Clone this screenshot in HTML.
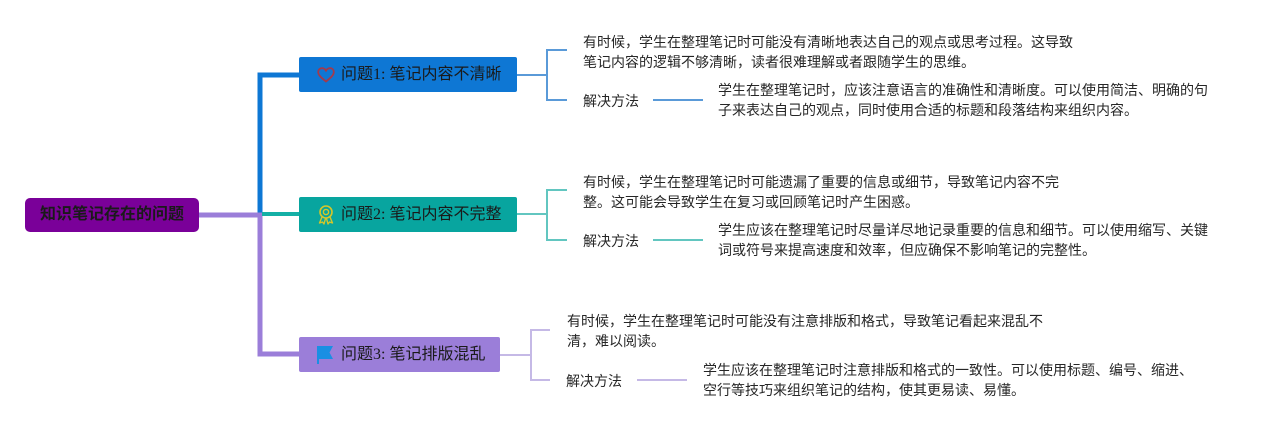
<!DOCTYPE html>
<html>
<head>
<meta charset="utf-8">
<style>
  html,body{margin:0;padding:0;background:#fff;}
  body{width:1278px;height:430px;position:relative;overflow:hidden;
    font-family:"Liberation Sans","Noto Sans CJK SC",sans-serif;}
  .abs{position:absolute;white-space:nowrap;}
  .root{left:25px;top:198px;width:174px;height:34px;background:#7a0099;border-radius:5px;
    color:#1a1a1a;font-weight:bold;font-size:16px;line-height:34px;text-align:center;}
  .box{height:35px;border-radius:2px;color:#1a1a1a;font-size:16px;line-height:35px;
    font-family:"Liberation Serif","Noto Sans CJK SC",sans-serif;}
  .box span{position:absolute;left:42px;top:0;}
  .t{font-size:14px;line-height:19.5px;color:#262626;}
  .lbl{font-size:14px;line-height:20px;color:#262626;}
</style>
</head>
<body>
<svg class="abs" style="left:0;top:0" width="1278" height="430">
  <!-- trunk lines -->
  <polyline points="299,75 260,75 260,215" fill="none" stroke="#0e77d4" stroke-width="5"/>
  <polyline points="199,215 260,215 260,354 299,354" fill="none" stroke="#9b7ed9" stroke-width="5"/>
  <line x1="262" y1="214" x2="299" y2="214" stroke="#14b0a6" stroke-width="4"/>
  <!-- section 1 connectors -->
  <g stroke="#5a9ad8" stroke-width="2" fill="none">
    <line x1="517" y1="75" x2="547" y2="75"/>
    <polyline points="567,50 547,50 547,100 567,100"/>
    <line x1="653" y1="100" x2="703" y2="100"/>
  </g>
  <!-- section 2 connectors -->
  <g stroke="#62c6c0" stroke-width="2" fill="none">
    <line x1="517" y1="214" x2="547" y2="214"/>
    <polyline points="567,190 547,190 547,240 567,240"/>
    <line x1="653" y1="240" x2="703" y2="240"/>
  </g>
  <!-- section 3 connectors -->
  <g stroke="#c5b9e6" stroke-width="2" fill="none">
    <line x1="500" y1="355" x2="531" y2="355"/>
    <polyline points="550,330 531,330 531,380 550,380"/>
    <line x1="637" y1="380" x2="687" y2="380"/>
  </g>
</svg>

<div class="abs root">知识笔记存在的问题</div>

<!-- Problem 1 -->
<div class="abs box" style="left:299px;top:57px;width:218px;background:#0e77d4;">
  <svg class="abs" style="left:18px;top:10px" width="18" height="16" viewBox="0 0 18 16">
    <path d="M9 14.5 C4 10.5 1.2 8 1.2 5 C1.2 2.6 3 1.2 5 1.2 C6.8 1.2 8.2 2.3 9 3.6 C9.8 2.3 11.2 1.2 13 1.2 C15 1.2 16.8 2.6 16.8 5 C16.8 8 14 10.5 9 14.5 Z" fill="none" stroke="#a33a4c" stroke-width="1.8"/>
  </svg>
  <span>问题1: 笔记内容不清晰</span>
</div>

<!-- Problem 2 -->
<div class="abs box" style="left:299px;top:197px;width:218px;background:#08a59f;">
  <svg class="abs" style="left:18px;top:8px" width="18" height="20" viewBox="0 0 18 20">
    <circle cx="9" cy="7" r="6" fill="none" stroke="#d4c62a" stroke-width="1.6"/>
    <circle cx="9" cy="7" r="2.6" fill="none" stroke="#d4c62a" stroke-width="1.4"/>
    <path d="M5 12 L2.5 18 L5.5 17 L7 19 L8.5 13.5" fill="none" stroke="#d4c62a" stroke-width="1.4" stroke-linejoin="round"/>
    <path d="M13 12 L15.5 18 L12.5 17 L11 19 L9.5 13.5" fill="none" stroke="#d4c62a" stroke-width="1.4" stroke-linejoin="round"/>
  </svg>
  <span>问题2: 笔记内容不完整</span>
</div>

<!-- Problem 3 -->
<div class="abs box" style="left:299px;top:337px;width:201px;background:#9b7ed9;">
  <svg class="abs" style="left:17px;top:8px" width="19" height="20" viewBox="0 0 19 20">
    <path d="M1 1 L17 1 L13.5 7.5 L17 14 L3 14 L3 19 L1 19 Z" fill="#1a8fe3"/>
  </svg>
  <span>问题3: 笔记排版混乱</span>
</div>

<!-- Section 1 text -->
<div class="abs t" style="left:583px;top:33px;">有时候，学生在整理笔记时可能没有清晰地表达自己的观点或思考过程。这导致<br>笔记内容的逻辑不够清晰，读者很难理解或者跟随学生的思维。</div>
<div class="abs lbl" style="left:583px;top:91px;">解决方法</div>
<div class="abs t" style="left:718px;top:81px;">学生在整理笔记时，应该注意语言的准确性和清晰度。可以使用简洁、明确的句<br>子来表达自己的观点，同时使用合适的标题和段落结构来组织内容。</div>

<!-- Section 2 text -->
<div class="abs t" style="left:583px;top:173px;">有时候，学生在整理笔记时可能遗漏了重要的信息或细节，导致笔记内容不完<br>整。这可能会导致学生在复习或回顾笔记时产生困惑。</div>
<div class="abs lbl" style="left:583px;top:231px;">解决方法</div>
<div class="abs t" style="left:718px;top:221px;">学生应该在整理笔记时尽量详尽地记录重要的信息和细节。可以使用缩写、关键<br>词或符号来提高速度和效率，但应确保不影响笔记的完整性。</div>

<!-- Section 3 text -->
<div class="abs t" style="left:567px;top:312px;">有时候，学生在整理笔记时可能没有注意排版和格式，导致笔记看起来混乱不<br>清，难以阅读。</div>
<div class="abs lbl" style="left:566px;top:371px;">解决方法</div>
<div class="abs t" style="left:703px;top:361px;">学生应该在整理笔记时注意排版和格式的一致性。可以使用标题、编号、缩进、<br>空行等技巧来组织笔记的结构，使其更易读、易懂。</div>
</body>
</html>
